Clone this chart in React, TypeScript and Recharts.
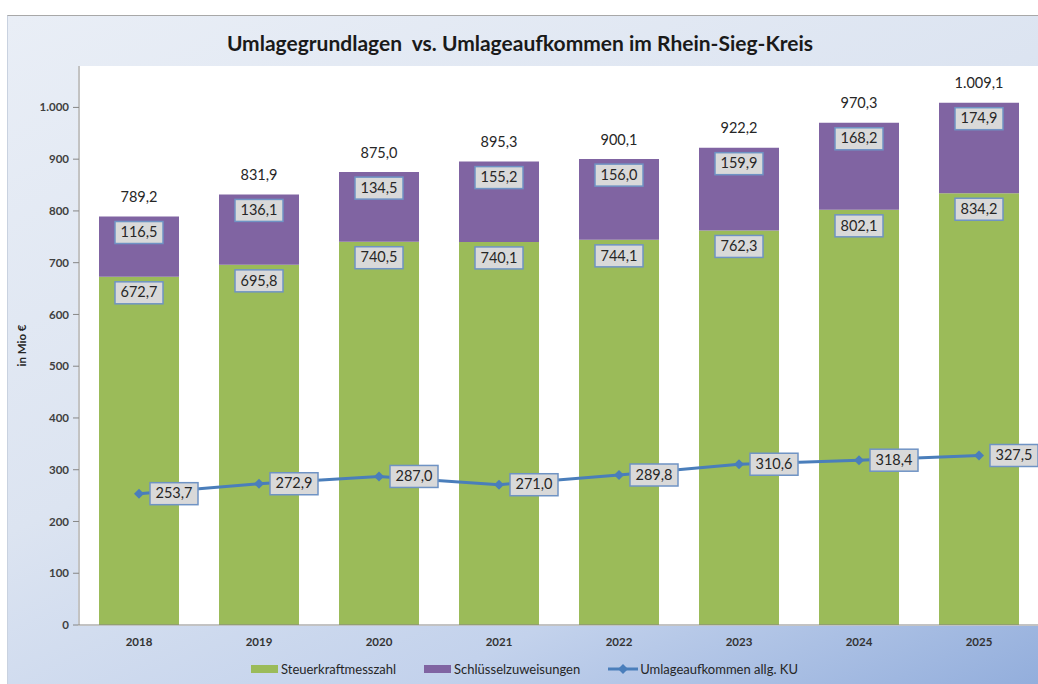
import { ComposedChart, Bar, Line, XAxis, YAxis, Legend, LabelList } from "recharts";

const years = ["2018", "2019", "2020", "2021", "2022", "2023", "2024", "2025"];
const steuerkraft = [672.7, 695.8, 740.5, 740.1, 744.1, 762.3, 802.1, 834.2];
const schluessel = [116.5, 136.1, 134.5, 155.2, 156.0, 159.9, 168.2, 174.9];
const umlage = [253.7, 272.9, 287.0, 271.0, 289.8, 310.6, 318.4, 327.5];
const yTicks = [0, 100, 200, 300, 400, 500, 600, 700, 800, 900, 1000];
const boundaryTicks = [0, 1, 2, 3, 4, 5, 6, 7, 8];
const legendOrder = ["steuerkraft", "schluessel", "umlage"];

const GREEN = "#9BBB59";
const PURPLE = "#8064A2";
const BLUE = "#4A7EBB";
const FONT = "Lato, 'Open Sans', sans-serif";

const data = years.map((year, i) => ({
  year,
  steuerkraft: steuerkraft[i],
  schluessel: schluessel[i],
  total: Math.round((steuerkraft[i] + schluessel[i]) * 10) / 10,
  umlage: umlage[i],
}));

const thousands = (s: string) => s.replace(/\B(?=(\d{3})+(?!\d))/g, ".");
const fmt = (v: number) => {
  const [i, d] = v.toFixed(1).split(".");
  return thousands(i) + "," + d;
};

const Box = ({ cx, cy, text }: { cx: number; cy: number; text: string }) => (
  <g>
    <rect x={cx - 24} y={cy - 11} width={48} height={22} fill="#D9D9D9" stroke="#6F93C4" strokeWidth={1.5} />
    <text x={cx} y={cy + 1} textAnchor="middle" dominantBaseline="middle" fontSize={14.5} fill="#262626" fontFamily={FONT}>
      {text}
    </text>
  </g>
);

const barBox = (props: any) => {
  const { x, y, width, value } = props;
  return <Box cx={Number(x) + Number(width) / 2} cy={Number(y) + 16} text={fmt(Number(value))} />;
};

const totalLabel = (props: any) => {
  const { x, y, width, value } = props;
  return (
    <text x={Number(x) + Number(width) / 2} y={Number(y) - 18} textAnchor="middle" dominantBaseline="middle" fontSize={14.5} fill="#262626" fontFamily={FONT}>
      {fmt(Number(value))}
    </text>
  );
};

const lineBox = (props: any) => {
  const { x, y, value } = props;
  return <Box cx={Number(x) + 35} cy={Number(y)} text={fmt(Number(value))} />;
};

const Diamond = (props: any) => {
  const { cx, cy } = props;
  if (cx == null || cy == null) return <g />;
  return <path d={`M${cx},${cy - 5} L${cx + 5},${cy} L${cx},${cy + 5} L${cx - 5},${cy} Z`} fill={BLUE} />;
};

const LegendContent = (props: any) => {
  const payload = [...(props.payload || [])].sort(
    (a: any, b: any) => legendOrder.indexOf(a.dataKey) - legendOrder.indexOf(b.dataKey)
  );
  return (
    <div style={{ display: "flex", justifyContent: "center", alignItems: "center", height: 32, paddingLeft: 22, fontFamily: FONT, fontSize: 13, color: "#262626" }}>
      {payload.map((entry: any) => (
        <div key={entry.value} style={{ display: "flex", alignItems: "center", marginRight: 28 }}>
          {entry.dataKey === "umlage" ? (
            <svg width={30} height={12} style={{ marginRight: 2 }}>
              <line x1={0} y1={6} x2={30} y2={6} stroke={BLUE} strokeWidth={3} />
              <path d="M15,1 L20,6 L15,11 L10,6 Z" fill={BLUE} />
            </svg>
          ) : (
            <div style={{ width: 27, height: 8, background: entry.color, marginRight: 3 }} />
          )}
          <span>{entry.value}</span>
        </div>
      ))}
    </div>
  );
};

export default function App() {
  return (
    <div style={{ position: "absolute", left: 0, top: 0, width: 1038, height: 684, background: "#ffffff", overflow: "hidden" }}>
      <div
        style={{
          position: "absolute",
          left: 7,
          top: 15,
          width: 1031,
          height: 669,
          borderTop: "1px solid #A8A8A8",
          borderLeft: "1px solid #C9D2E0",
          boxSizing: "border-box",
          background: "linear-gradient(155deg, #E9EEF6 0%, #DCE4F1 45%, #C3D2EC 75%, #93AEDC 100%)",
        }}
      >
        <div style={{ position: "absolute", left: 0, top: 14, width: 1024, textAlign: "center", fontFamily: FONT, fontWeight: 700, fontSize: 21, color: "#1a1a1a" }}>
          Umlagegrundlagen&nbsp; vs. Umlageaufkommen im Rhein-Sieg-Kreis
        </div>
        <div style={{ position: "absolute", left: 70, top: 50, width: 961, height: 560, background: "#ffffff" }} />
        <div style={{ position: "absolute", left: 0, top: 0 }}>
          <ComposedChart width={1031} height={669} data={data} margin={{ top: 50, right: 0, left: 8, bottom: 0 }}>
            <XAxis
              xAxisId="bounds"
              type="number"
              domain={[0, 8]}
              ticks={boundaryTicks}
              tick={false}
              tickSize={5}
              axisLine={false}
              stroke="#868686"
              height={0}
            />
            <XAxis
              dataKey="year"
              tickLine={false}
              axisLine={{ stroke: "#868686" }}
              height={28}
              tick={{ fontSize: 11.5, fontWeight: 700, fill: "#333333", fontFamily: FONT }}
              tickMargin={7}
            />
            <YAxis
              domain={[0, 1080]}
              ticks={yTicks}
              width={63}
              tickSize={6}
              tickMargin={4}
              stroke="#868686"
              tickFormatter={(v: number) => thousands(String(v))}
              tick={{ fontSize: 11.5, fontWeight: 700, fill: "#404040", fontFamily: FONT }}
              label={{ value: "in Mio €", angle: -90, position: "insideLeft", offset: 6, style: { fontSize: 11.5, fontWeight: 700, fill: "#262626", fontFamily: FONT, textAnchor: "middle" } }}
            />
            <Legend verticalAlign="bottom" content={<LegendContent />} />
            <Bar dataKey="steuerkraft" name="Steuerkraftmesszahl" stackId="a" fill={GREEN} barSize={80} isAnimationActive={false}>
              <LabelList dataKey="steuerkraft" content={barBox} />
            </Bar>
            <Bar dataKey="schluessel" name="Schlüsselzuweisungen" stackId="a" fill={PURPLE} barSize={80} isAnimationActive={false}>
              <LabelList dataKey="schluessel" content={barBox} />
              <LabelList dataKey="total" content={totalLabel} />
            </Bar>
            <Line
              dataKey="umlage"
              name="Umlageaufkommen allg. KU"
              stroke={BLUE}
              strokeWidth={3}
              dot={<Diamond />}
              activeDot={false}
              isAnimationActive={false}
            >
              <LabelList dataKey="umlage" content={lineBox} />
            </Line>
          </ComposedChart>
        </div>
      </div>
    </div>
  );
}
